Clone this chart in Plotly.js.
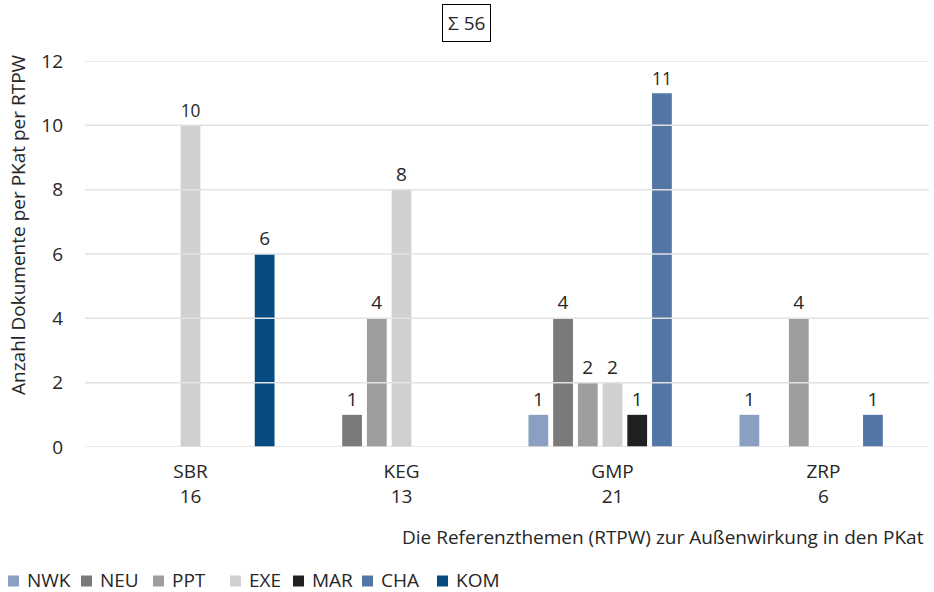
<!DOCTYPE html>
<html>
<head>
<meta charset="utf-8">
<script src="https://cdn.plot.ly/plotly-3.0.1.min.js"></script>
<style>html,body{margin:0;padding:0;background:#fff;}#chart{width:934px;height:592px;}</style>
</head>
<body>
<div id="chart"></div>
<script>
// Categories (PKat) and totals
const categories = ["SBR", "KEG", "GMP", "ZRP"];
const totals = [16, 13, 21, 6];
// Series (RTPW) values per category; null = no bar
const seriesNames = ["NWK", "NEU", "PPT", "EXE", "MAR", "CHA", "KOM"];
const NWK = [null, null, 1, 1];
const NEU = [null, 1, 4, null];
const PPT = [null, 4, 2, 4];
const EXE = [10, 8, 2, null];
const MAR = [null, null, 1, null];
const CHA = [null, null, 11, 1];
const KOM = [6, null, null, null];
const seriesColors = ["#8a9fc2", "#7a7a7a", "#9e9e9e", "#d0d0d0", "#1f2022", "#5276a6", "#064c80"];
const yTicks = [0, 2, 4, 6, 8, 10, 12];
const sumLabel = "Σ 56";
const xTitle = "Die Referenzthemen (RTPW) zur Außenwirkung in den PKat";
const yTitle = "Anzahl Dokumente per PKat per RTPW";

// ---- layout constants (pixels) ----
const W = 934, H = 592;
const M = {l: 85, r: 5, t: 61, b: 145};
const PW = W - M.l - M.r, PH = H - M.t - M.b;
const px2x = p => (p - M.l) / PW;
const py2y = p => (H - M.b - p) / PH;
// legend item square left edges (px), as laid out in the reference
const legendSquareX = [8, 81, 153, 230, 293, 362, 437];
const LEG_SQ = 11, LEG_GAP = 8, LEG_Y = 581;

const FONT = "Open Sans, Noto Sans, sans-serif";
const FS = 19;
const TXT = "#262626";
const seriesValues = [NWK, NEU, PPT, EXE, MAR, CHA, KOM];
const xLabels = categories.map((c, i) => c + "<br>" + totals[i]);

const traces = seriesNames.map((name, i) => ({
  type: "bar",
  name: name,
  x: xLabels,
  y: seriesValues[i],
  text: seriesValues[i].map(v => v === null ? "" : String(v)),
  textposition: "outside",
  cliponaxis: false,
  textfont: {family: FONT, size: FS, color: TXT},
  marker: {color: seriesColors[i], line: {width: 0}},
  hoverinfo: "x+y+name"
}));

const gridShapes = yTicks.map(t => ({
  type: "line", xref: "paper", yref: "y", x0: 0, x1: 1, y0: t, y1: t,
  line: {color: "#e2e2e2", width: 1.5}, layer: "above"
}));

// legend built from series names/colours
const legendShapes = seriesNames.map((n, i) => ({
  type: "rect", xref: "paper", yref: "paper",
  x0: px2x(legendSquareX[i]), x1: px2x(legendSquareX[i] + LEG_SQ),
  y0: py2y(LEG_Y + LEG_SQ / 2), y1: py2y(LEG_Y - LEG_SQ / 2),
  fillcolor: seriesColors[i], line: {width: 0}, layer: "above"
}));
const legendTexts = seriesNames.map((n, i) => ({
  text: n, xref: "paper", yref: "paper",
  x: px2x(legendSquareX[i] + LEG_SQ + LEG_GAP - 2), y: py2y(LEG_Y - 1),
  xanchor: "left", yanchor: "middle", showarrow: false,
  font: {family: FONT, size: FS, color: TXT}
}));

const layout = {
  width: W, height: H,
  margin: {l: M.l, r: M.r, t: M.t, b: M.b, autoexpand: false},
  paper_bgcolor: "#fff", plot_bgcolor: "#fff",
  font: {family: FONT, size: FS, color: TXT},
  barmode: "group",
  bargap: 0.18,
  bargroupgap: 0.2,
  showlegend: false,
  xaxis: {
    type: "category", showgrid: false, zeroline: false, showline: false,
    ticks: "", ticklabelstandoff: 11, automargin: false,
    tickfont: {family: FONT, size: FS, color: TXT}, fixedrange: true
  },
  yaxis: {
    range: [0, 12], tickvals: yTicks, showgrid: false, zeroline: false, showline: false,
    ticks: "", ticklabelstandoff: 21, automargin: false,
    tickfont: {family: FONT, size: FS, color: TXT}, fixedrange: true
  },
  shapes: gridShapes.concat(legendShapes),
  annotations: [
    {text: sumLabel, xref: "paper", yref: "paper", x: px2x(466.5), y: py2y(23), xanchor: "center", yanchor: "middle",
     showarrow: false, bordercolor: "#000", borderwidth: 1, borderpad: 5,
     font: {family: FONT, size: FS, color: TXT}},
    {text: xTitle, xref: "paper", yref: "paper", x: px2x(926), y: py2y(537), xanchor: "right", yanchor: "middle",
     showarrow: false, font: {family: FONT, size: FS, color: TXT}},
    {text: yTitle, xref: "paper", yref: "paper", x: px2x(18), y: py2y(225), xanchor: "center", yanchor: "middle",
     textangle: -90, showarrow: false, font: {family: FONT, size: FS, color: TXT}}
  ].concat(legendTexts)
};

Plotly.newPlot("chart", traces, layout, {displayModeBar: false, staticPlot: true});
</script>
</body>
</html>
